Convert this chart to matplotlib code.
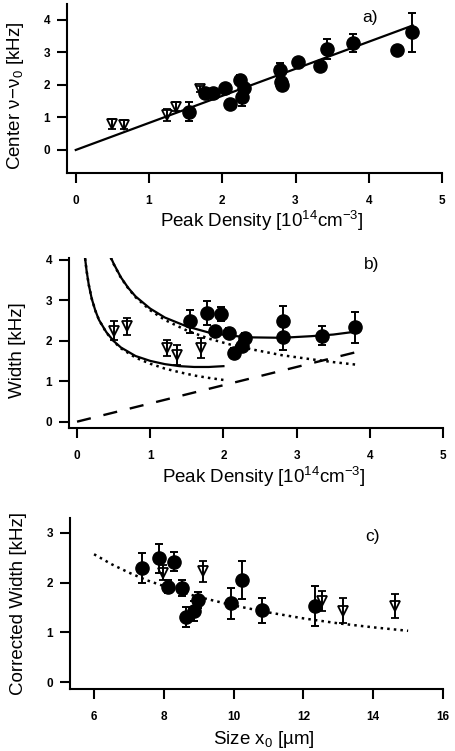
import matplotlib
matplotlib.use("Agg")
import matplotlib.pyplot as plt

plt.rcParams['font.family'] = ['Liberation Sans', 'DejaVu Sans']
plt.rcParams['mathtext.fontset'] = 'custom'
plt.rcParams['mathtext.rm'] = 'Liberation Sans'
plt.rcParams['mathtext.it'] = 'Liberation Sans'
plt.rcParams['mathtext.default'] = 'regular'

# ---------------- Panel a data ----------------
tri_a_x = [0.50, 0.66, 1.24, 1.37, 1.70]
tri_a_y = [0.80, 0.78, 1.08, 1.33, 1.87]
tri_a_err = [0.14, 0.14, 0.18, 0.14, 0.10]
circ_a_x = [1.54, 1.77, 1.88, 2.04, 2.11, 2.24, 2.27, 2.30, 2.79, 2.80, 2.82, 3.03, 3.33, 3.43, 3.79, 4.39, 4.59]
circ_a_y = [1.18, 1.74, 1.74, 1.90, 1.42, 2.15, 1.64, 1.90, 2.46, 2.10, 2.00, 2.71, 2.58, 3.10, 3.28, 3.08, 3.62]
circ_a_err = [0.30, 0.10, 0.10, 0.10, 0.10, 0.15, 0.30, 0.15, 0.21, 0.15, 0.10, 0.10, 0.15, 0.30, 0.28, 0.10, 0.60]
fit_a_x = [0.0, 4.60]
fit_a_y = [0.0, 3.83]

# ---------------- Panel b data ----------------
tri_b_x = [0.50, 0.68, 1.23, 1.36, 1.70]
tri_b_y = [2.25, 2.35, 1.82, 1.65, 1.82]
tri_b_err = [0.23, 0.21, 0.20, 0.25, 0.25]
circ_b_x = [1.55, 1.77, 1.96, 1.89, 2.07, 2.14, 2.25, 2.30, 2.81, 2.81, 3.34, 3.80]
circ_b_y = [2.48, 2.68, 2.66, 2.23, 2.19, 1.69, 1.86, 2.06, 2.48, 2.08, 2.12, 2.33]
circ_b_err = [0.28, 0.30, 0.18, 0.10, 0.12, 0.12, 0.12, 0.12, 0.37, 0.30, 0.24, 0.38]

low_x = [0.11, 0.13, 0.16, 0.20, 0.25, 0.30, 0.40, 0.50, 0.60, 0.80, 1.00, 1.20, 1.40, 1.60, 1.80, 2.00]
low_dot_y = [4.03, 3.73, 3.38, 3.04, 2.74, 2.51, 2.20, 1.98, 1.81, 1.58, 1.43, 1.31, 1.22, 1.14, 1.08, 1.03]
low_sol_y = [4.03, 3.73, 3.38, 3.04, 2.74, 2.51, 2.21, 1.99, 1.83, 1.62, 1.50, 1.42, 1.37, 1.35, 1.35, 1.37]

up_x = [0.46, 0.50, 0.60, 0.70, 0.80, 1.00, 1.20, 1.50, 1.80, 2.10, 2.40, 2.80, 3.20, 3.50, 3.80]
up_dot_y = [4.05, 3.89, 3.55, 3.29, 3.07, 2.75, 2.51, 2.25, 2.05, 1.90, 1.78, 1.64, 1.54, 1.47, 1.41]
up_sol_y = [4.06, 3.90, 3.56, 3.30, 3.09, 2.79, 2.57, 2.35, 2.20, 2.12, 2.08, 2.07, 2.11, 2.15, 2.22]

dash_b_x = [0.0, 3.80]
dash_b_y = [0.0, 1.71]

# ---------------- Panel c data ----------------
circ_c_x = [7.37, 7.86, 8.29, 8.13, 8.51, 8.64, 8.85, 8.99, 9.92, 10.25, 10.80, 12.33]
circ_c_y = [2.29, 2.49, 2.42, 1.92, 1.89, 1.31, 1.42, 1.65, 1.58, 2.05, 1.44, 1.53]
circ_c_err = [0.30, 0.29, 0.19, 0.13, 0.16, 0.20, 0.20, 0.17, 0.32, 0.39, 0.25, 0.40]
tri_c_x = [7.97, 9.13, 12.52, 13.14, 14.62]
tri_c_y = [2.20, 2.23, 1.63, 1.43, 1.53]
tri_c_err = [0.15, 0.21, 0.20, 0.25, 0.25]
dot_c_x = [6.0, 6.5, 7.0, 7.5, 8.0, 8.5, 9.0, 10.0, 11.0, 12.0, 13.0, 14.0, 15.0]
dot_c_y = [2.57, 2.37, 2.20, 2.05, 1.93, 1.81, 1.71, 1.54, 1.40, 1.28, 1.18, 1.10, 1.03]

fig = plt.figure(figsize=(4.56, 7.51), dpi=100)
LABEL_FS = 13.5

def style(ax, xlim, ylim, xticks, yticks):
    ax.set_xlim(*xlim)
    ax.set_ylim(*ylim)
    ax.set_xticks(xticks)
    ax.set_yticks(yticks)
    for s in ['top', 'right']:
        ax.spines[s].set_visible(False)
    for s in ['left', 'bottom']:
        ax.spines[s].set_linewidth(1.5)
    ax.tick_params(direction='out', length=7, width=1.5, labelsize=8.5)
    ax.tick_params(axis='x', pad=9)
    ax.tick_params(axis='y', pad=5)
    for lab in ax.get_xticklabels() + ax.get_yticklabels():
        lab.set_fontweight('bold')

def circles(ax, x, y, e):
    ax.errorbar(x, y, yerr=e, fmt='o', color='black', ms=9.5, elinewidth=1.4,
                capsize=3.2, capthick=1.4, zorder=4)

def triangles(ax, x, y, e):
    ax.errorbar(x, y, yerr=e, fmt='v', color='black', mfc='none', mec='black',
                mew=1.3, ms=7.5, elinewidth=1.4, capsize=3.2, capthick=1.4, zorder=3)

# Panel a
ax1 = fig.add_axes([0.1469, 0.7696, 0.8224, 0.2250])
ax1.plot(fit_a_x, fit_a_y, color='black', lw=1.6, zorder=2)
triangles(ax1, tri_a_x, tri_a_y, tri_a_err)
circles(ax1, circ_a_x, circ_a_y, circ_a_err)
style(ax1, (-0.12, 5), (-0.71, 4.49), [0, 1, 2, 3, 4, 5], [0, 1, 2, 3, 4])
ax1.set_xlabel('Peak Density [10$^{14}$cm$^{-3}$]', fontsize=LABEL_FS)
ax1.set_ylabel(r'Center $\nu\!-\!\nu_0$ [kHz]', fontsize=LABEL_FS)
ax1.xaxis.set_label_coords(0.52, -0.215)
ax1.yaxis.set_label_coords(-0.108, 0.46)
ax1.text(0.808, 0.923, 'a)', transform=ax1.transAxes, fontsize=12.5, ha='center', va='center')

# Panel b
ax2 = fig.add_axes([0.1513, 0.4301, 0.8202, 0.2264])
ax2.plot(low_x, low_dot_y, color='black', lw=1.8, ls=':', zorder=2)
ax2.plot(low_x, low_sol_y, color='black', lw=1.6, zorder=2)
ax2.plot(up_x, up_dot_y, color='black', lw=1.8, ls=':', zorder=2)
ax2.plot(up_x, up_sol_y, color='black', lw=1.6, zorder=2)
ax2.plot(dash_b_x, dash_b_y, color='black', lw=1.7, dashes=(6, 5.5), zorder=2)
triangles(ax2, tri_b_x, tri_b_y, tri_b_err)
circles(ax2, circ_b_x, circ_b_y, circ_b_err)
style(ax2, (-0.11, 5), (-0.156, 4.04), [0, 1, 2, 3, 4, 5], [0, 1, 2, 3, 4])
ax2.set_xlabel('Peak Density [10$^{14}$cm$^{-3}$]', fontsize=LABEL_FS)
ax2.set_ylabel('Width [kHz]', fontsize=LABEL_FS)
ax2.xaxis.set_label_coords(0.52, -0.215)
ax2.yaxis.set_label_coords(-0.115, 0.46)
ax2.text(0.81, 0.959, 'b)', transform=ax2.transAxes, fontsize=12.5, ha='center', va='center')

# Panel c
ax3 = fig.add_axes([0.1535, 0.0826, 0.8180, 0.2277])
ax3.plot(dot_c_x, dot_c_y, color='black', lw=1.8, ls=':', zorder=2)
triangles(ax3, tri_c_x, tri_c_y, tri_c_err)
circles(ax3, circ_c_x, circ_c_y, circ_c_err)
style(ax3, (5.31, 16), (-0.14, 3.30), [6, 8, 10, 12, 14, 16], [0, 1, 2, 3])
ax3.set_xlabel('Size x$_0$ [µm]', fontsize=LABEL_FS)
ax3.set_ylabel('Corrected Width [kHz]', fontsize=LABEL_FS)
ax3.xaxis.set_label_coords(0.52, -0.235)
ax3.yaxis.set_label_coords(-0.115, 0.50)
ax3.text(0.81, 0.889, 'c)', transform=ax3.transAxes, fontsize=12.5, ha='center', va='center')

fig.savefig('out.png', dpi=100)
